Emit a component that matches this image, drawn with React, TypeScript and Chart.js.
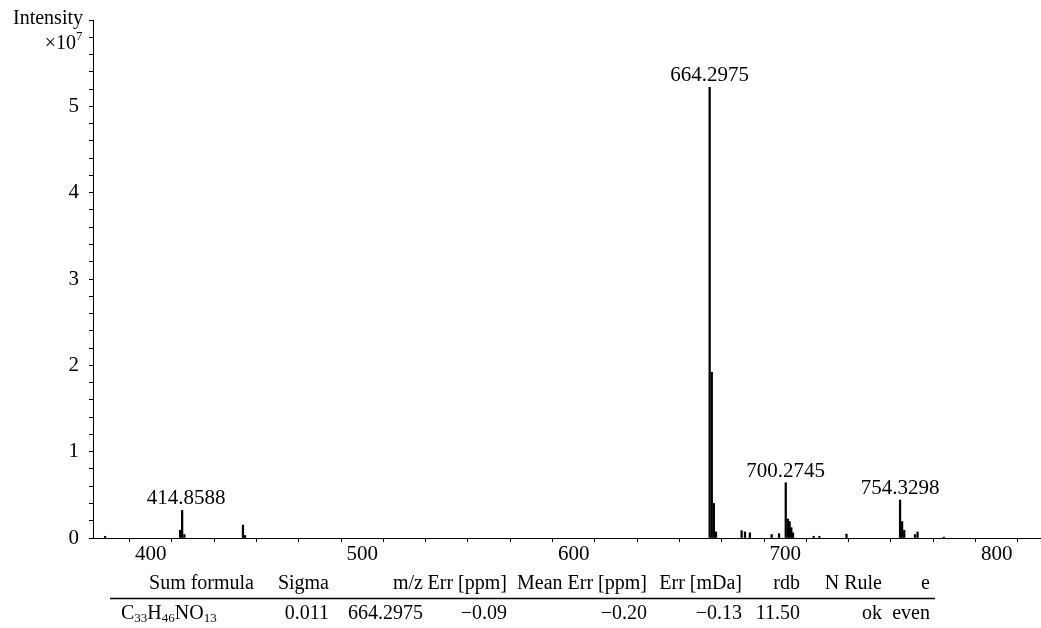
import React, { useEffect, useRef } from 'react';
import { Chart, registerables } from 'chart.js';

Chart.register(...registerables);

// ---- Data (m/z vs intensity, ×10^7) ----
const peakMz = [
  378.4, 413.9, 414.8588, 415.9, 443.6, 444.6,
  664.2975, 665.3, 666.3, 667.3,
  679.4, 681.0, 683.3, 693.6, 697.1,
  700.2745, 701.3, 702.1, 702.9, 703.7,
  713.5, 716.2, 729.0,
  754.3298, 755.3, 756.3, 761.4, 762.6, 775.0,
];
const peakIntensity = [
  0.02, 0.09, 0.32, 0.04, 0.15, 0.03,
  5.22, 1.92, 0.4, 0.07,
  0.085, 0.07, 0.06, 0.04, 0.05,
  0.64, 0.22, 0.19, 0.12, 0.06,
  0.02, 0.02, 0.045,
  0.44, 0.19, 0.09, 0.04, 0.07, 0.01,
];
const labeledMz = [414.8588, 664.2975, 700.2745, 754.3298];
const labeledText = ['414.8588', '664.2975', '700.2745', '754.3298'];
const xLabelValues = [400, 500, 600, 700, 800];
const yLabelValues = [0, 1, 2, 3, 4, 5];
const axisTitle = 'Intensity';
const axisUnitBase = '×10';
const axisUnitExp = '7';
const tableHeaders = ['Sum formula', 'Sigma', 'm/z', 'Err [ppm]', 'Mean Err [ppm]', 'Err [mDa]', 'rdb', 'N Rule', 'e'];
const formulaParts = [['C', '33'], ['H', '46'], ['NO', '13']];
const tableValues = ['0.011', '664.2975', '−0.09', '−0.20', '−0.13', '11.50', 'ok', 'even'];

const SERIF = '"Liberation Serif", "Times New Roman", serif';

export default function App() {
  const ref = useRef<HTMLCanvasElement>(null);

  useEffect(() => {
    const canvas = ref.current;
    if (!canvas) return;

    const overlay = {
      id: 'overlay',
      afterDraw(chart: any) {
        const ctx = chart.ctx as CanvasRenderingContext2D;
        ctx.save();
        ctx.fillStyle = '#000';
        ctx.strokeStyle = '#000';

        // axis title
        ctx.font = `20px ${SERIF}`;
        ctx.textAlign = 'right';
        ctx.textBaseline = 'alphabetic';
        ctx.fillText(axisTitle, 83, 24);
        ctx.fillText(axisUnitBase, 76, 49);
        ctx.font = `13px ${SERIF}`;
        ctx.textAlign = 'left';
        ctx.fillText(axisUnitExp, 76, 40);

        // peak labels
        const meta = chart.getDatasetMeta(0);
        ctx.font = `21px ${SERIF}`;
        ctx.textAlign = 'center';
        labeledMz.forEach((mz, k) => {
          const i = peakMz.indexOf(mz);
          const el = meta.data[i];
          if (!el) return;
          ctx.fillText(labeledText[k], el.x + (k === 0 ? 4 : 0), el.y - 6);
        });

        // table: right-aligned columns shared by header and value row
        const colRight = [254, 329, 423, 507, 647, 742, 800, 882, 930];
        const headerY = 589;
        const rowY = 619;
        ctx.font = `20px ${SERIF}`;
        ctx.textAlign = 'right';
        tableHeaders.forEach((h, i) => ctx.fillText(h, colRight[i], headerY));
        ctx.lineWidth = 1.5;
        ctx.beginPath();
        ctx.moveTo(110, 598.5);
        ctx.lineTo(935, 598.5);
        ctx.stroke();
        tableValues.forEach((v, i) => ctx.fillText(v, colRight[i + 1], rowY));
        // formula with subscripts
        ctx.textAlign = 'left';
        let x = 121;
        formulaParts.forEach(([el, sub]) => {
          ctx.font = `20px ${SERIF}`;
          ctx.fillText(el, x, rowY);
          x += ctx.measureText(el).width;
          ctx.font = `13px ${SERIF}`;
          ctx.fillText(sub, x, rowY + 3);
          x += ctx.measureText(sub).width;
        });
        ctx.restore();
      },
    };

    const chart = new Chart(canvas, {
      type: 'bar',
      data: {
        datasets: [
          {
            data: peakMz.map((m, i) => ({ x: m, y: peakIntensity[i] })),
            backgroundColor: '#000',
            borderWidth: 0,
            barThickness: 1.6,
            grouped: false,
          } as any,
        ],
      },
      options: {
        animation: false,
        responsive: false,
        devicePixelRatio: 1,
        layout: { padding: { top: 20, right: 1, left: 0, bottom: 0 } },
        plugins: { legend: { display: false }, tooltip: { enabled: false } },
        scales: {
          x: {
            type: 'linear',
            min: 372.7,
            max: 820.5,
            offset: false,
            grid: { display: true, drawOnChartArea: false, drawTicks: true, tickLength: 4, color: '#000', lineWidth: 1 },
            border: { display: true, color: '#000', width: 1 },
            ticks: {
              stepSize: 20,
              includeBounds: false,
              autoSkip: false,
              maxRotation: 0,
              padding: 0,
              color: '#000',
              font: { family: SERIF, size: 21 },
              callback: (v: any) => (xLabelValues.includes(Math.round(Number(v))) && Math.abs(Number(v) - Math.round(Number(v))) < 1e-6 ? String(Math.round(Number(v))) : ''),
            },
            afterFit: (s: any) => { s.height = 90; s.paddingLeft = 0; s.paddingRight = 0; },
          },
          y: {
            min: 0,
            max: 6,
            grid: { display: true, drawOnChartArea: false, drawTicks: true, tickLength: 4, color: '#000', lineWidth: 1 },
            border: { display: true, color: '#000', width: 1 },
            ticks: {
              stepSize: 0.2,
              autoSkip: false,
              padding: 10,
              color: '#000',
              font: { family: SERIF, size: 21 },
              callback: (v: any) => {
                const n = Number(v);
                const r = Math.round(n);
                return Math.abs(n - r) < 1e-6 && yLabelValues.includes(r) ? String(r) : '';
              },
            },
            afterFit: (s: any) => { s.width = 93; s.paddingTop = 0; s.paddingBottom = 0; },
          },
        },
      },
      plugins: [overlay],
    });

    return () => chart.destroy();
  }, []);

  return (
    <div style={{ position: 'fixed', left: 0, top: 0, width: 1041, height: 628, background: '#fff' }}>
      <canvas ref={ref} width={1041} height={628} style={{ display: 'block' }} />
    </div>
  );
}
